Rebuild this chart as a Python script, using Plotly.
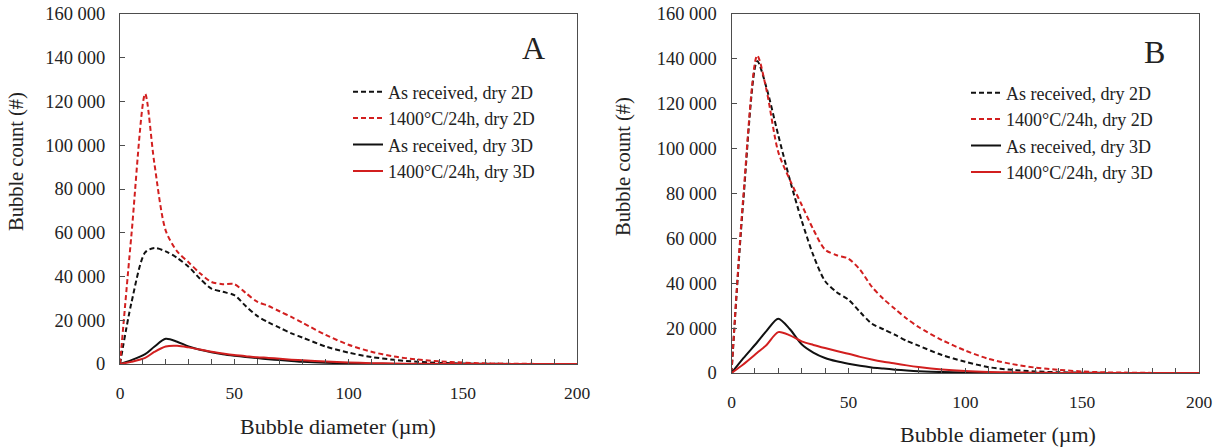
import plotly.graph_objects as go

# ---- data ----
diameter = [0, 5, 11, 15, 20, 25, 30, 35, 40, 45, 50, 55, 60, 65, 70, 75, 80,
            90, 100, 110, 120, 130, 140, 150, 160, 170, 180, 190, 200]

# Panel A
a_asrec_2d = [0, 28000, 51000, 53000, 51500, 48500, 44500, 39000, 34500, 33000, 31500, 26500, 22000, 19000,
              16500, 14000, 12000, 8000, 5200, 3200, 1900, 1000, 500, 250, 100, 50, 0, 0, 0]
a_1400_2d = [0, 59000, 123500, 92000, 61000, 51500, 46500, 41500, 37500, 36500, 36500, 32500, 28500, 26500,
             24000, 21500, 18800, 13300, 8800, 5600, 3400, 2100, 1200, 650, 300, 150, 60, 20, 0]
a_asrec_3d = [0, 1800, 4500, 7900, 11500, 10200, 8000, 6500, 5400, 4500, 3800, 3200, 2700, 2200,
              1800, 1400, 1000, 550, 300, 150, 50, 0, 0, 0, 0, 0, 0, 0, 0]
a_1400_3d = [0, 1000, 2800, 5500, 8000, 8300, 7600, 6600, 5600, 4800, 4100, 3600, 3100, 2800,
             2400, 2000, 1700, 1100, 700, 400, 200, 100, 50, 0, 0, 0, 0, 0, 0]

# Panel B
b_asrec_2d = [0, 76000, 139000, 127000, 106000, 86000, 68000, 52500, 41000, 36000, 32700, 27200, 22000, 19500,
              17000, 14300, 12200, 8000, 5000, 2600, 1400, 700, 350, 150, 50, 0, 0, 0, 0]
b_1400_2d = [0, 78000, 141500, 126000, 98500, 86000, 75000, 64000, 55000, 52500, 51000, 46000, 38500, 33000,
             28500, 24200, 20500, 14700, 10000, 6300, 4000, 2400, 1400, 700, 300, 150, 50, 0, 0]
b_asrec_3d = [0, 6500, 13700, 18800, 24200, 19500, 12800, 9100, 6700, 5200, 4100, 3200, 2500, 2000,
              1500, 1100, 800, 400, 200, 100, 0, 0, 0, 0, 0, 0, 0, 0, 0]
b_1400_3d = [0, 3800, 9000, 12500, 18200, 16800, 14100, 12500, 11100, 9800, 8600, 7200, 6000, 5000,
             4200, 3400, 2700, 1600, 900, 500, 300, 150, 50, 0, 0, 0, 0, 0, 0]

series_names = ["As received, dry 2D", "1400°C/24h, dry 2D", "As received, dry 3D", "1400°C/24h, dry 3D"]
x_tickvals = [0, 50, 100, 150, 200]
x_ticktext = ["0", "50", "100", "150", "200"]
y_tickvals = [0, 20000, 40000, 60000, 80000, 100000, 120000, 140000, 160000]
y_ticktext = ["0", "20 000", "40 000", "60 000", "80 000", "100 000", "120 000", "140 000", "160 000"]

# ---- styles ----
W, H = 1226, 448
FONT = "Liberation Serif"
RED = "#d21f1f"
BLK = "#111111"
DASH = "5px,3px"
styles = [dict(color=BLK, dash=DASH), dict(color=RED, dash=DASH),
          dict(color=BLK, dash="solid"), dict(color=RED, dash="solid")]

fig = go.Figure()
panels = [
    ("x", "y", "legend", [a_asrec_2d, a_1400_2d, a_asrec_3d, a_1400_3d]),
    ("x2", "y2", "legend2", [b_asrec_2d, b_1400_2d, b_asrec_3d, b_1400_3d]),
]
for xa, ya, leg, data in panels:
    for i, (name, vals) in enumerate(zip(series_names, data)):
        fig.add_trace(go.Scatter(
            x=diameter, y=vals, name=name, mode="lines",
            line=dict(width=2, shape="spline", smoothing=0.8, **styles[i]),
            xaxis=xa, yaxis=ya, legend=leg, legendgroup=f"{leg}{i}",
        ))

def px_x(p):
    return p / W

def px_y(p):
    return 1 - p / H

axis_common = dict(showline=True, mirror=True, linecolor="#4d4d4d", linewidth=1,
                   showgrid=False, zeroline=False, ticks="inside", ticklen=5,
                   tickcolor="#4d4d4d", automargin=False)

xa_common = dict(axis_common, range=[0, 200], tickvals=x_tickvals, ticktext=x_ticktext,
                 minor=dict(dtick=10, ticks="inside", ticklen=5, tickcolor="#4d4d4d"),
                 tickfont=dict(family=FONT, size=17.5, color="#222"),
                 ticklabelstandoff=13)
ya_common = dict(axis_common, range=[0, 160000], tickvals=y_tickvals, ticktext=y_ticktext,
                 tickfont=dict(family=FONT, size=18.5, color="#222"),
                 ticklabelstandoff=10)

legend_font = dict(family=FONT, size=18, color="#222")
fig.update_layout(
    width=W, height=H, margin=dict(l=0, r=0, t=0, b=0, autoexpand=False),
    paper_bgcolor="white", plot_bgcolor="white",
    font=dict(family=FONT, color="#222"),
    xaxis=dict(xa_common, domain=[px_x(120), px_x(577)], anchor="y"),
    yaxis=dict(ya_common, domain=[px_y(364), px_y(14)], anchor="x"),
    xaxis2=dict(xa_common, domain=[px_x(731.5), px_x(1199)], anchor="y2"),
    yaxis2=dict(ya_common, domain=[px_y(373), px_y(14)], anchor="x2"),
    legend=dict(x=px_x(348), y=px_y(73.5), xanchor="left", yanchor="top",
                bgcolor="rgba(0,0,0,0)", font=legend_font, tracegroupgap=0),
    legend2=dict(x=px_x(966), y=px_y(74.5), xanchor="left", yanchor="top",
                 bgcolor="rgba(0,0,0,0)", font=legend_font, tracegroupgap=0),
    showlegend=True,
)

ann = [
    dict(text="A", x=px_x(533), y=px_y(48), size=32),
    dict(text="B", x=px_x(1154), y=px_y(52), size=32),
    dict(text="Bubble diameter (µm)", x=px_x(338), y=px_y(426), size=22),
    dict(text="Bubble diameter (µm)", x=px_x(998), y=px_y(434), size=22),
    dict(text="Bubble count (#)", x=px_x(17), y=px_y(162), textangle=-90, size=20.5),
    dict(text="Bubble count (#)", x=px_x(623), y=px_y(167), textangle=-90, size=20.5),
]
for a in ann:
    fig.add_annotation(xref="paper", yref="paper", showarrow=False,
                       xanchor="center", yanchor="middle",
                       font=dict(family=FONT, color="#222", size=a["size"]),
                       text=a["text"], x=a["x"], y=a["y"], textangle=a.get("textangle", 0))

fig.write_html("out.html")
